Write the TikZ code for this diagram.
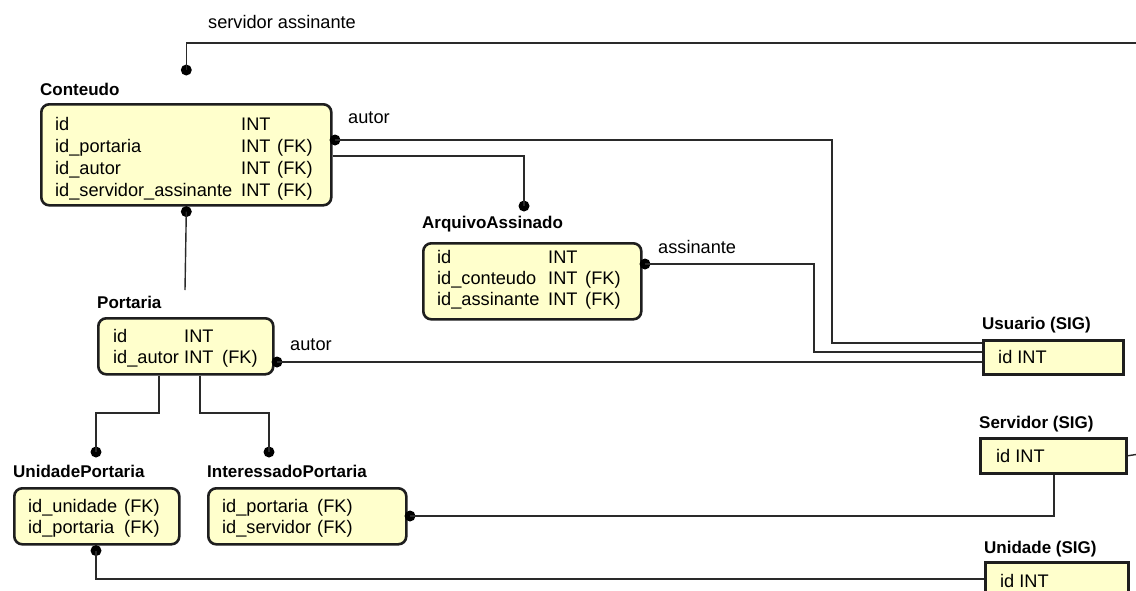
\documentclass[tikz,border=0pt]{standalone}
\usepackage{fontspec}
\setmainfont{Liberation Sans}
\usetikzlibrary{calc}
\definecolor{boxfill}{HTML}{FFFFCC}
\definecolor{boxline}{HTML}{1E1E1E}
\definecolor{linecol}{HTML}{2A2A2A}
\begin{document}
\begin{tikzpicture}[x=1pt,y=-1pt,
  tbl/.style={draw=boxline, line width=2.6pt, fill=boxfill, rounded corners=8pt,
              anchor=north west, inner sep=0pt},
  sig/.style={tbl, rounded corners=0pt},
  ttl/.style={anchor=base west, inner sep=0pt, font=\fontsize{17}{20}\selectfont\bfseries},
  fld/.style={anchor=base west, inner sep=0pt, font=\fontsize{18.2}{21}\selectfont},
  conn/.style={draw=linecol, line width=1.4pt},
  dot/.style={circle, fill=black, inner sep=0pt, minimum size=11pt}]
\useasboundingbox (0,0) rectangle (1136,590);
\clip (0,0) rectangle (1136,590);
\fill[white] (0,0) rectangle (1136,590);

% ---------- tables ----------
\node[tbl, minimum width=290pt, minimum height=101pt] (conteudo) at (40,103) {};
\node[ttl] (tConteudo) at (40,95) {Conteudo};
\node[fld] at (55,130) {id};
\node[fld] at (55,152) {id\_portaria};
\node[fld] at (55,174) {id\_autor};
\node[fld] at (55,196) {id\_servidor\_assinante};
\node[fld] at (241,130) {INT};
\node[fld] at (241,152) {INT};
\node[fld] at (241,174) {INT};
\node[fld] at (241,196) {INT};
\node[fld] at (277,152) {(FK)};
\node[fld] at (277,174) {(FK)};
\node[fld] at (277,196) {(FK)};

\node[tbl, minimum width=218pt, minimum height=76pt] (arquivo) at (422,242) {};
\node[ttl] (tArquivo) at (422,228) {ArquivoAssinado};
\node[fld] at (437,263) {id};
\node[fld] at (437,284) {id\_conteudo};
\node[fld] at (437,305) {id\_assinante};
\node[fld] at (548,263) {INT};
\node[fld] at (548,284) {INT};
\node[fld] at (548,305) {INT};
\node[fld] at (585,284) {(FK)};
\node[fld] at (585,305) {(FK)};

\node[tbl, minimum width=175pt, minimum height=56pt] (portaria) at (97,317) {};
\node[ttl] (tPortaria) at (97,308) {Portaria};
\node[fld] at (113,342) {id};
\node[fld] at (113,363) {id\_autor};
\node[fld] at (184,342) {INT};
\node[fld] at (184,363) {INT};
\node[fld] at (222,363) {(FK)};

\node[tbl, minimum width=165pt, minimum height=56pt] (unidport) at (13,487) {};
\node[ttl] (tUnidPort) at (13,477) {UnidadePortaria};
\node[fld] at (28,512) {id\_unidade};
\node[fld] at (28,533) {id\_portaria};
\node[fld] at (124,512) {(FK)};
\node[fld] at (124,533) {(FK)};

\node[tbl, minimum width=198pt, minimum height=56pt] (interport) at (207,487) {};
\node[ttl] (tInterPort) at (207,477) {InteressadoPortaria};
\node[fld] at (222,512) {id\_portaria};
\node[fld] at (222,533) {id\_servidor};
\node[fld] at (317,512) {(FK)};
\node[fld] at (317,533) {(FK)};

\node[sig, minimum width=140pt, minimum height=34pt] (usuario) at (982,339) {};
\node[ttl] (tUsuario) at (982,329) {Usuario (SIG)};
\node[fld] at (998,363) {id INT};

\node[sig, minimum width=146pt, minimum height=35pt] (servidor) at (979,437) {};
\node[ttl] (tServidor) at (979,428) {Servidor (SIG)};
\node[fld] at (996,462) {id INT};

\node[sig, minimum width=143pt, minimum height=40pt] (unidade) at (984,561) {};
\node[ttl] (tUnidade) at (984,553) {Unidade (SIG)};
\node[fld] at (1000,587) {id INT};

% ---------- relationships ----------
% servidor assinante: Conteudo -> Servidor (routed off the right edge)
\node[dot] (dSA) at ($(conteudo.north)+(0,-33)$) {};
\coordinate (saOut) at (1136,43);
\draw[conn] (dSA.center) |- (saOut);
\coordinate (saIn) at (1136,454.5);
\draw[conn] (servidor.east) -- (saIn);
\node[fld] at (208,28) {servidor assinante};

% autor: Conteudo -> Usuario
\node[dot] (dCA) at (335,140) {};
\coordinate (caTurn) at (832,140);
\draw[conn] (dCA.center) -- (caTurn) |- (usuario.west |- 0,343);
\node[fld] at (348,123) {autor};

% Conteudo -> ArquivoAssinado
\node[dot] (dAC) at (524,206) {};
\coordinate (acStart) at (conteudo.east |- 0,156);
\draw[conn] (acStart) -| (dAC.center);

% assinante: ArquivoAssinado -> Usuario
\node[dot] (dAA) at (645,264) {};
\coordinate (aaTurn) at (814,264);
\draw[conn] (dAA.center) -- (aaTurn) |- (usuario.west |- 0,352);
\node[fld] at (658,253) {assinante};

% autor: Portaria -> Usuario
\node[dot] (dPA) at (277,362) {};
\draw[conn] (dPA.center) -- (usuario.west |- 0,362);
\node[fld] at (290,350) {autor};

% Conteudo -> Portaria
\node[dot] (dCP) at ($(conteudo.south)+(0,5)$) {};
\coordinate (cpEnd) at (185,290);
\draw[conn] (dCP.center) -- (cpEnd);

% Portaria -> UnidadePortaria
\node[dot] (dUP) at (96,452) {};
\draw[conn] (portaria.south -| 159,0) |- (0,413 -| dUP.center) -- (dUP.center);

% Portaria -> InteressadoPortaria
\node[dot] (dIP) at (269,452) {};
\draw[conn] (portaria.south -| 200,0) |- (0,413 -| dIP.center) -- (dIP.center);

% InteressadoPortaria -> Servidor
\node[dot] (dIS) at (410,516) {};
\draw[conn] (dIS.center) -| (servidor.south -| 1054,0);

% UnidadePortaria -> Unidade
\node[dot] (dUU) at ($(unidport.south -| 96,0)+(0,5)$) {};
\draw[conn] (dUU.center) |- (unidade.west |- 0,579);
\end{tikzpicture}
\end{document}
